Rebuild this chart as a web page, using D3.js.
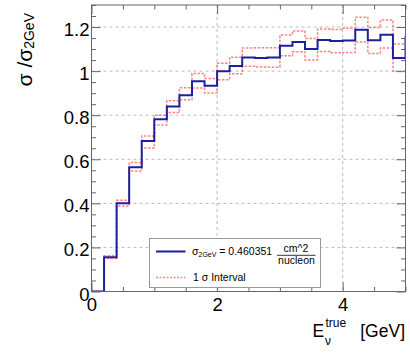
<!DOCTYPE html>
<html>
<head>
<meta charset="utf-8">
<script src="https://cdn.jsdelivr.net/npm/d3@7"></script>
<style>
  body { margin: 0; background: #fff; }
  svg { font-family: "Liberation Sans", Arial, Helvetica, sans-serif; }
</style>
</head>
<body>
<svg id="chart" width="410" height="353"></svg>
<script>
// bin edges in GeV (last bin is the one just past the axis end)
let binEdges = [0, 0.2, 0.4, 0.6, 0.8, 1.0, 1.2, 1.4, 1.6, 1.8, 2.0, 2.2, 2.4, 2.6,
  2.8, 3.0, 3.2, 3.4, 3.6, 3.8, 4.0, 4.2, 4.4, 4.6, 4.8, 5.0, 5.2];

// sigma / sigma_2GeV, central value
let central = [0, 0.155, 0.400, 0.564, 0.683, 0.782, 0.839, 0.891, 0.954, 0.934,
  0.999, 1.023, 1.062, 1.060, 1.062, 1.115, 1.132, 1.100, 1.141, 1.137,
  1.139, 1.188, 1.140, 1.165, 1.060, 1.152];

// 1 sigma band
let upper = [0, 0.162, 0.414, 0.585, 0.706, 0.800, 0.866, 0.924, 0.989, 0.966,
  1.036, 1.063, 1.105, 1.106, 1.106, 1.164, 1.182, 1.148, 1.191, 1.189,
  1.195, 1.244, 1.198, 1.232, 1.123];
let lower = [0, 0.150, 0.388, 0.547, 0.651, 0.755, 0.812, 0.870, 0.923, 0.901,
  0.961, 0.988, 1.022, 1.019, 1.018, 1.070, 1.088, 1.051, 1.089, 1.083,
  1.085, 1.132, 1.080, 1.105, 0.999];

let xMajor = [0, 2, 4];
let xLabels = ["0", "2", "4"];
let yMajor = [0, 0.2, 0.4, 0.6, 0.8, 1.0, 1.2];
let yLabels = ["0", "0.2", "0.4", "0.6", "0.8", "1", "1.2"];

let margin = {top: 5, right: 4.5, bottom: 61.5, left: 91.5},
    width = 410 - margin.left - margin.right,
    height = 353 - margin.top - margin.bottom;

let svg = d3.select("#chart")
  .append("g")
    .attr("transform", "translate(" + margin.left + "," + margin.top + ")");

let x = d3.scaleLinear().domain([0, 5]).range([0, width]);
let y = d3.scaleLinear().domain([0, 1.3]).range([height, 0]);

let xMinor = x.ticks(10).filter(function(d) { return xMajor.indexOf(d) < 0; });
let yMinor = y.ticks(26).filter(function(d) {
  return !yMajor.some(function(m) { return Math.abs(m - d) < 1e-9; });
});

// grid
svg.append("g").selectAll("line")
  .data(yMajor.slice(1))
  .enter().append("line")
    .attr("x1", 0).attr("x2", width)
    .attr("y1", function(d) { return y(d); })
    .attr("y2", function(d) { return y(d); })
    .attr("stroke", "#bbb").attr("stroke-dasharray", "3,3");
svg.append("g").selectAll("line")
  .data(xMajor.slice(1))
  .enter().append("line")
    .attr("y1", 0).attr("y2", height)
    .attr("x1", function(d) { return x(d); })
    .attr("x2", function(d) { return x(d); })
    .attr("stroke", "#bbb").attr("stroke-dasharray", "3,3");

// ticks, ROOT style (inside the frame, on all four sides)
function tickAxis(axis, vals, size, tr) {
  let g = svg.append("g")
    .attr("transform", tr || null)
    .call(axis.tickValues(vals).tickSize(-size).tickFormat(""));
  g.select(".domain").remove();
  g.selectAll("line").attr("stroke", "#666");
  return g;
}
tickAxis(d3.axisBottom(x), xMinor, 4.5, "translate(0," + height + ")");
tickAxis(d3.axisTop(x), xMinor, 4.5);
tickAxis(d3.axisTop(x), xMajor, 9);
tickAxis(d3.axisLeft(y), yMinor, 4.5);
tickAxis(d3.axisRight(y), yMinor, 4.5, "translate(" + width + ",0)");
tickAxis(d3.axisRight(y), yMajor, 9, "translate(" + width + ",0)");

let xAxis = svg.append("g")
  .attr("transform", "translate(0," + height + ")")
  .call(d3.axisBottom(x).tickValues(xMajor).tickSize(-9)
    .tickFormat(function(d, i) { return xLabels[i]; }));
xAxis.select(".domain").remove();
xAxis.selectAll("line").attr("stroke", "#666");
xAxis.selectAll("text")
  .attr("y", 19.3).attr("dy", null)
  .attr("font-size", 18.5).attr("font-family", null).attr("fill", "#000");

let yAxis = svg.append("g")
  .call(d3.axisLeft(y).tickValues(yMajor).tickSize(-9)
    .tickFormat(function(d, i) { return yLabels[i]; }));
yAxis.select(".domain").remove();
yAxis.selectAll("line").attr("stroke", "#666");
yAxis.selectAll("text")
  .attr("x", -2).attr("dy", 8.5)
  .attr("font-size", 18.5).attr("font-family", null).attr("fill", "#000");

// histograms
svg.append("clipPath").attr("id", "plotClip")
  .append("rect").attr("width", width).attr("height", height);

function stepPoints(vals) {
  let pts = vals.map(function(v, i) { return [binEdges[i], v]; });
  pts.push([binEdges[vals.length], vals[vals.length - 1]]);
  return pts;
}
let step = d3.line()
  .x(function(d) { return x(d[0]); })
  .y(function(d) { return y(d[1]); })
  .curve(d3.curveStepAfter);

let plot = svg.append("g").attr("clip-path", "url(#plotClip)");
[upper, lower].forEach(function(band) {
  plot.append("path")
    .attr("d", step(stepPoints(band)))
    .attr("fill", "none")
    .attr("stroke", "#ff5a5a")
    .attr("stroke-opacity", 0.75)
    .attr("stroke-width", 1.5)
    .attr("stroke-dasharray", "2.5,1.5");
});
plot.append("path")
  .attr("d", step(stepPoints(central)))
  .attr("fill", "none")
  .attr("stroke", "#1f1f9e")
  .attr("stroke-width", 2);

// frame
svg.append("rect")
  .attr("width", width).attr("height", height)
  .attr("fill", "none").attr("stroke", "#666");

// axis titles
let root = d3.select("#chart");
let xt = root.append("g").attr("fill", "#000");
xt.append("text").attr("x", 312.5).attr("y", 336.7).attr("font-size", 17.5).text("E");
xt.append("text").attr("x", 325.5).attr("y", 327.3).attr("font-size", 12).text("true");
xt.append("text").attr("x", 325).attr("y", 345).attr("font-size", 12).text("ν");
xt.append("text").attr("x", 405).attr("y", 336.7).attr("font-size", 17.5)
  .attr("text-anchor", "end").text("[GeV]");

let yt = root.append("text")
  .attr("transform", "translate(32,13) rotate(-90)")
  .attr("text-anchor", "end").attr("fill", "#000");
yt.append("tspan").attr("font-size", 21).text("σ /σ");
yt.append("tspan").attr("font-size", 14).attr("dy", 2).text("2GeV");

// legend
let lg = root.append("g");
lg.append("rect")
  .attr("x", 149.5).attr("y", 238.5).attr("width", 171).attr("height", 49)
  .attr("fill", "#fff").attr("stroke", "#999");
lg.append("line")
  .attr("x1", 156).attr("x2", 185.5).attr("y1", 251.5).attr("y2", 251.5)
  .attr("stroke", "#1f1f9e").attr("stroke-width", 2);
lg.append("line")
  .attr("x1", 156).attr("x2", 185.5).attr("y1", 277.5).attr("y2", 277.5)
  .attr("stroke", "#ff5a5a").attr("stroke-opacity", 0.75)
  .attr("stroke-width", 1.5).attr("stroke-dasharray", "2,1.5");
let l1 = lg.append("text").attr("x", 192).attr("y", 255).attr("font-size", 10.5);
l1.append("tspan").text("σ");
l1.append("tspan").attr("font-size", 7).attr("dy", 2).text("2GeV");
l1.append("tspan").attr("dy", -2).text(" = 0.460351");
lg.append("text").attr("x", 296).attr("y", 252).attr("font-size", 10.5)
  .attr("text-anchor", "middle").text("cm^2");
lg.append("line")
  .attr("x1", 277).attr("x2", 315.5).attr("y1", 255.3).attr("y2", 255.3)
  .attr("stroke", "#000").attr("stroke-width", 0.8);
lg.append("text").attr("x", 296.5).attr("y", 263.5).attr("font-size", 10.5)
  .attr("text-anchor", "middle").text("nucleon");
lg.append("text").attr("x", 193).attr("y", 281).attr("font-size", 10.5)
  .text("1 σ Interval");
</script>
</body>
</html>
